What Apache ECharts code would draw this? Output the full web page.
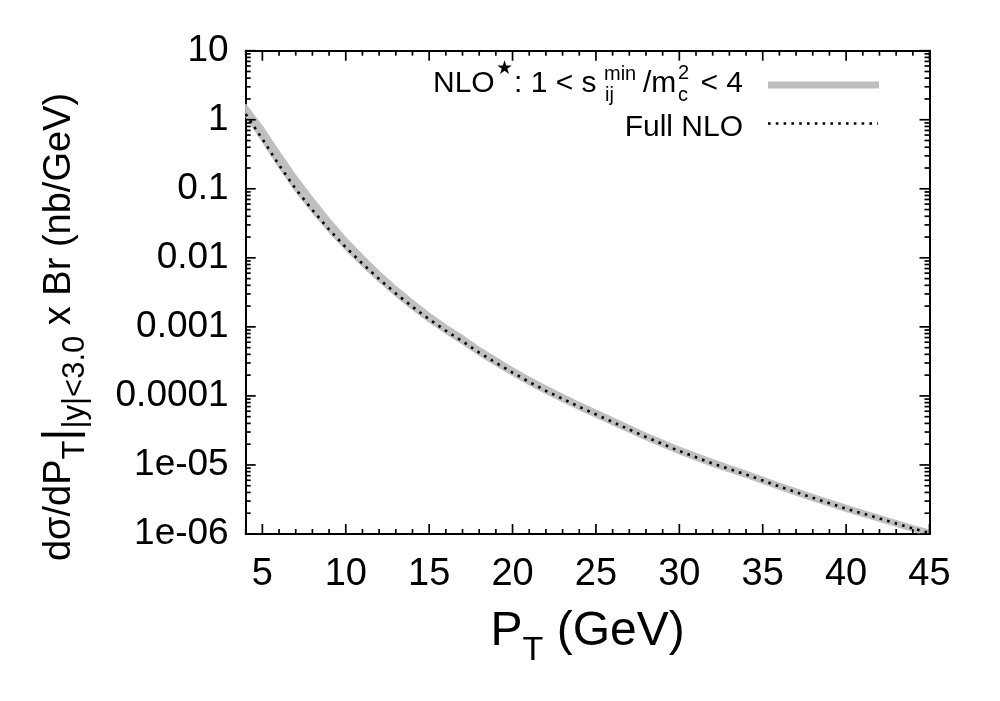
<!DOCTYPE html>
<html>
<head>
<meta charset="utf-8">
<script src="https://cdn.jsdelivr.net/npm/echarts@6/dist/echarts.min.js"></script>
<style>html,body{margin:0;padding:0;background:#fff}#c{width:1000px;height:701px}</style>
</head>
<body>
<div id="c"></div>
<script>
// ---- data ----
const pT = [4,5,6,7,8,9,10,11,12,13,14,15,16,17,18,19,20,21,22,24,26,28,30,32,34,36,38,40,42,44,45];
const fullNLO = [1.211,0.526,0.2211,0.0993,0.04928,0.02572,0.0142,0.00822,0.00493,0.00305,0.001952,0.001291,0.00088,0.000618,0.000425,0.000302,0.000218,0.0001595,0.0001186,6.95e-5,4.19e-5,2.54e-5,1.591e-5,1.049e-5,7.27e-6,4.87e-6,3.34e-6,2.33e-6,1.68e-6,1.204e-6,1.033e-6];
const nloStarHigh = [1.69,0.812,0.353,0.158,0.076,0.0378,0.01982,0.0111,0.00644,0.00392,0.002465,0.001603,0.001075,0.000755,0.00051,0.000363,0.000257,0.0001884,0.0001401,8.08e-5,4.87e-5,2.9e-5,1.82e-5,1.2e-5,8.17e-6,5.47e-6,3.75e-6,2.62e-6,1.86e-6,1.33e-6,1.14e-6];
const nloStarLow = [1.096,0.476,0.2,0.0899,0.0446,0.02328,0.01285,0.00744,0.00446,0.00276,0.001767,0.001168,0.000796,0.000559,0.000385,0.000273,0.000197,0.0001443,0.0001073,6.29e-5,3.79e-5,2.3e-5,1.44e-5,9.49e-6,6.58e-6,4.41e-6,3.02e-6,2.11e-6,1.52e-6,1.09e-6,9.35e-7];
const xMin = 4, xMax = 45, yMin = 1e-6, yMax = 10;
const xTicks = [5,10,15,20,25,30,35,40,45];
const xMinorTicks = [4,6,7,8,9,11,12,13,14,16,17,18,19,21,22,23,24,26,27,28,29,31,32,33,34,36,37,38,39,41,42,43,44];
const yTicks = [1e-6,1e-5,1e-4,1e-3,1e-2,1e-1,1,10];
const yTickLabels = ['1e-06','1e-05','0.0001','0.001','0.01','0.1','1','10'];
const yMinorTicks = [];
for (let e = -6; e <= 0; e++) for (let m = 2; m <= 9; m++) yMinorTicks.push(m * Math.pow(10, e));

const FONT = 'Liberation Sans, Arial, Helvetica, sans-serif';
const chart = echarts.init(document.getElementById('c'), null, {renderer: 'canvas'});

const TW = 1.7;      // tick stroke width
const MAJ = 10, MIN = 5; // tick lengths
const TICK_COLOR = '#000';
function tickRect(x, y, w, h) {
  return {type: 'rect', shape: {x: x, y: y, width: w, height: h}, style: {fill: TICK_COLOR}};
}

const option = {
  backgroundColor: '#fff',
  animation: false,
  grid: {left: 245.7, right: 70.5, top: 50.7, bottom: 167, show: false, containLabel: false},
  xAxis: [
    {
      type: 'value', min: xMin, max: xMax, position: 'bottom',
      axisLine: {show: true, onZero: false, lineStyle: {color: '#000', width: 2}},
      axisTick: {show: false},
      axisLabel: {show: true, customValues: xTicks, fontSize: 38, color: '#000', fontFamily: FONT, margin: 22, showMinLabel: true, showMaxLabel: true},
      splitLine: {show: false},
      name: '{b|P}{s|T}{b| (GeV)}',
      nameLocation: 'middle', nameGap: 62,
      nameTextStyle: {color: '#000', fontFamily: FONT, rich: {
        b: {fontSize: 48, fontFamily: FONT, color: '#000'},
        s: {fontSize: 34, fontFamily: FONT, color: '#000', verticalAlign: 'bottom', lineHeight: 72}
      }}
    },
    {
      type: 'value', min: xMin, max: xMax, position: 'top',
      axisLine: {show: true, onZero: false, lineStyle: {color: '#000', width: 2}},
      axisTick: {show: false},
      axisLabel: {show: false},
      splitLine: {show: false}
    }
  ],
  yAxis: [
    {
      type: 'log', logBase: 10, min: yMin, max: yMax, position: 'left',
      axisLine: {show: true, onZero: false, lineStyle: {color: '#000', width: 2}},
      axisTick: {show: false},
      axisLabel: {show: true, fontSize: 37, color: '#000', fontFamily: FONT, margin: 17, showMinLabel: true, showMaxLabel: true,
        formatter: v => yTickLabels[Math.round(Math.log10(v)) + 6]},
      splitLine: {show: false}
    },
    {
      type: 'log', logBase: 10, min: yMin, max: yMax, position: 'right',
      axisLine: {show: true, onZero: false, lineStyle: {color: '#000', width: 2}},
      axisTick: {show: false},
      axisLabel: {show: false},
      splitLine: {show: false}
    }
  ],
  series: [
    {
      name: 'NLO* band', type: 'custom', clip: true, z: 2,
      data: [[pT[0], fullNLO[0]]],
      renderItem: function (params, api) {
        const pts = [];
        for (let i = 0; i < pT.length; i++) pts.push(api.coord([pT[i], nloStarHigh[i]]));
        for (let i = pT.length - 1; i >= 0; i--) pts.push(api.coord([pT[i], nloStarLow[i]]));
        return {type: 'polygon', shape: {points: pts}, style: {fill: '#bfbfbf', stroke: '#bfbfbf', lineWidth: 1}};
      }
    },
    {
      name: 'Full NLO', type: 'line', z: 3,
      data: pT.map((x, i) => [x, fullNLO[i]]),
      showSymbol: false, symbol: 'none', smooth: false,
      lineStyle: {color: '#000', width: 2.6, type: [2.6, 5.2], cap: 'butt'}
    },
    {
      name: 'ticks', type: 'custom', z: 6, clip: false, silent: true,
      data: [[pT[0], fullNLO[0]]],
      renderItem: function (params, api) {
        const children = [];
        function xTick(v, len) {
          const b = api.coord([v, yMin]);
          const t = api.coord([v, yMax]);
          children.push(tickRect(b[0] - TW / 2, b[1] - len, TW, len));
          children.push(tickRect(t[0] - TW / 2, t[1], TW, len));
        }
        function yTick(v, len) {
          const l = api.coord([xMin, v]);
          const r = api.coord([xMax, v]);
          children.push(tickRect(l[0], l[1] - TW / 2, len, TW));
          children.push(tickRect(r[0] - len, r[1] - TW / 2, len, TW));
        }
        xTicks.forEach(v => xTick(v, MAJ));
        xMinorTicks.forEach(v => xTick(v, MIN));
        yTicks.forEach(v => yTick(v, MAJ));
        yMinorTicks.forEach(v => yTick(v, MIN));
        return {type: 'group', children: children};
      }
    }
  ],
  graphic: [
    // y axis title
    {
      type: 'text', x: 60, y: 327, rotation: Math.PI / 2, z: 10,
      style: {
        text: '{b|dσ/dP}{s|T}{bar||}{s||y|<3.0}{b| x Br (nb/GeV)}',
        align: 'center', verticalAlign: 'middle', fill: '#000',
        rich: {
          b: {fontSize: 38, fontFamily: FONT, fill: '#000', color: '#000'},
          bar: {fontSize: 46, fontFamily: FONT, fill: '#000', color: '#000', verticalAlign: 'bottom', lineHeight: 62, padding: [0, 0, 6, 0]},
          s: {fontSize: 31, fontFamily: FONT, fill: '#000', color: '#000', verticalAlign: 'bottom', lineHeight: 62}
        }
      }
    },
    // legend entry 1
    {type: 'text', x: 433, y: 83.3, z: 10, style: {text: 'NLO', font: '30px ' + FONT, fill: '#000', align: 'left', verticalAlign: 'middle'}},
    {type: 'text', x: 496, y: 69, z: 10, style: {text: '★', font: '19px DejaVu Sans', fill: '#000', align: 'left', verticalAlign: 'middle'}},
    {type: 'text', x: 514, y: 83.3, z: 10, style: {text: ': 1 < s', font: '30px ' + FONT, fill: '#000', align: 'left', verticalAlign: 'middle'}},
    {type: 'text', x: 604, y: 74, z: 10, style: {text: 'min', font: '20px ' + FONT, fill: '#000', align: 'left', verticalAlign: 'middle'}},
    {type: 'text', x: 605, y: 95.5, z: 10, style: {text: 'ij', font: '20px ' + FONT, fill: '#000', align: 'left', verticalAlign: 'middle'}},
    {type: 'text', x: 643, y: 83.3, z: 10, style: {text: '/m', font: '30px ' + FONT, fill: '#000', align: 'left', verticalAlign: 'middle'}},
    {type: 'text', x: 678, y: 73.5, z: 10, style: {text: '2', font: '20px ' + FONT, fill: '#000', align: 'left', verticalAlign: 'middle'}},
    {type: 'text', x: 678, y: 95, z: 10, style: {text: 'c', font: '20px ' + FONT, fill: '#000', align: 'left', verticalAlign: 'middle'}},
    {type: 'text', x: 743, y: 83.3, z: 10, style: {text: '< 4', font: '30px ' + FONT, fill: '#000', align: 'right', verticalAlign: 'middle'}},
    {type: 'line', z: 10, shape: {x1: 768, y1: 85, x2: 879, y2: 85}, style: {stroke: '#bfbfbf', lineWidth: 7}},
    // legend entry 2
    {type: 'text', x: 743, y: 127.3, z: 10, style: {text: 'Full NLO', font: '30px ' + FONT, fill: '#000', align: 'right', verticalAlign: 'middle'}},
    {type: 'line', z: 10, shape: {x1: 768, y1: 123.5, x2: 878, y2: 123.5}, style: {stroke: '#000', lineWidth: 2.6, lineDash: [2.6, 5.2]}}
  ]
};
chart.setOption(option);
</script>
</body>
</html>
